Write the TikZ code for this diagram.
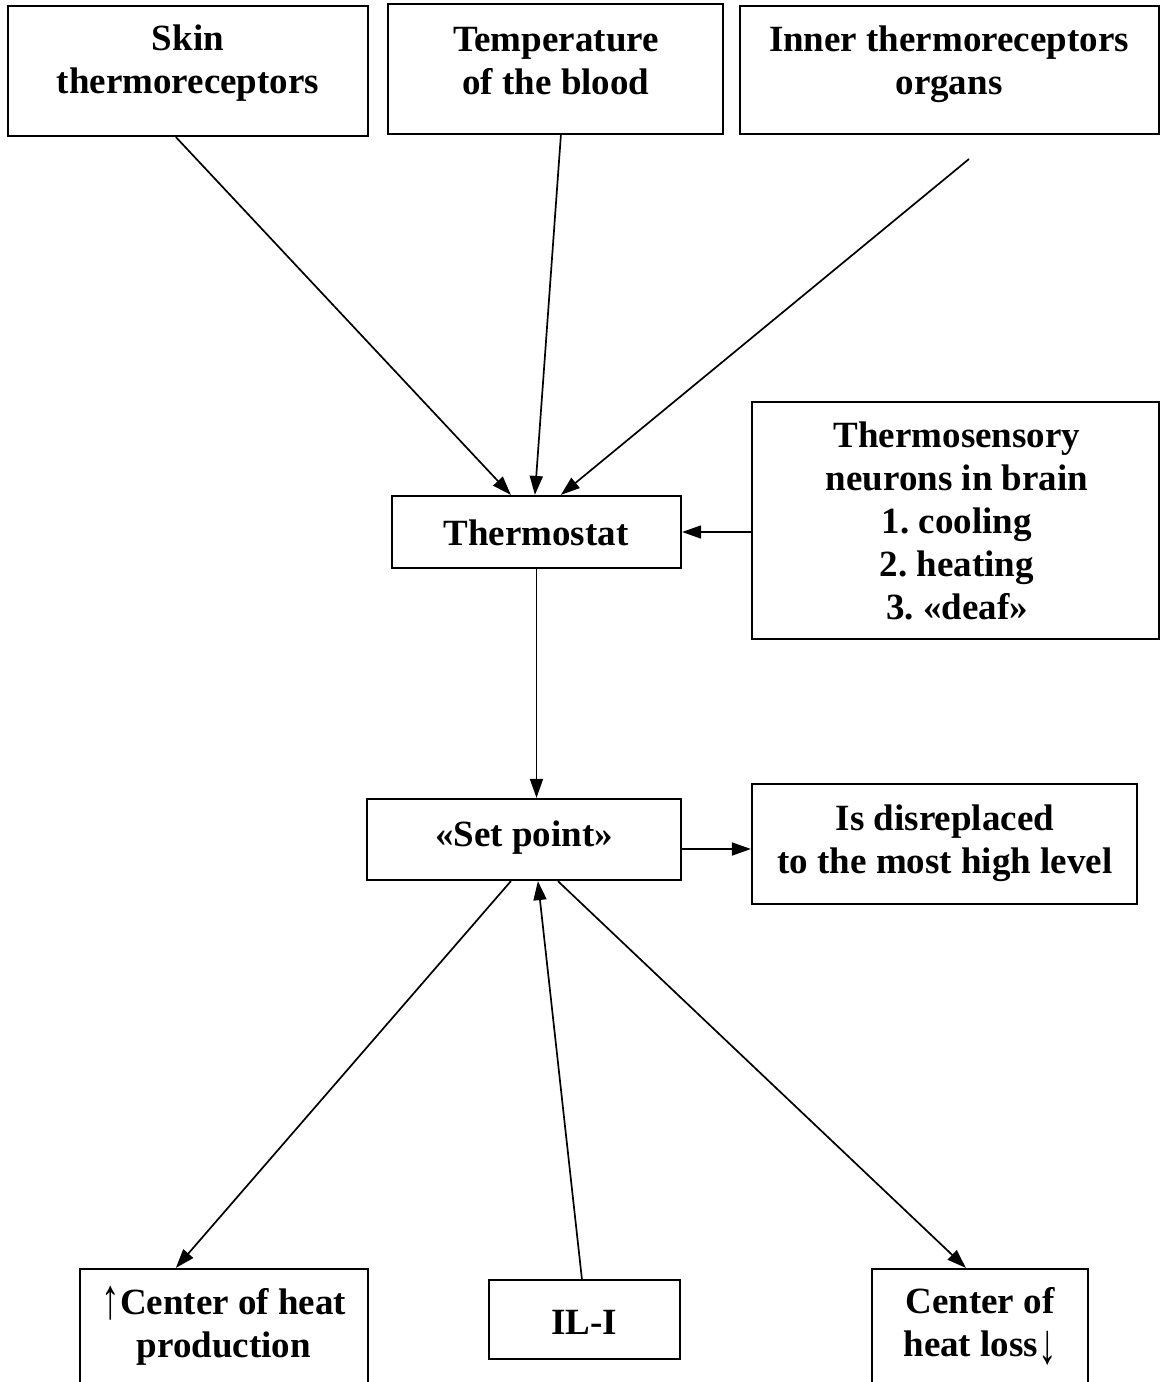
\documentclass[tikz,border=0pt]{standalone}
\usepackage{fontspec}
\usepackage{graphicx}
\setmainfont{Liberation Serif}
\usetikzlibrary{arrows.meta,calc}
\frenchspacing
% tall thin arrows beside the effector labels
\newcommand{\tallup}{\raisebox{-0.12em}{\scalebox{1}[1.55]{↑}}}
\newcommand{\talldown}{\raisebox{-0.18em}{\scalebox{1}[1.55]{↓}}}
\begin{document}
\begin{tikzpicture}[x=1pt,y=-1pt,
  box/.style={draw, line width=2.2pt, rectangle, inner sep=0pt},
  lbl/.style={font=\fontsize{37}{43}\selectfont\bfseries, align=center, inner sep=0pt},
  conn/.style={line width=1.7pt, -{Triangle[length=19pt,width=13pt]}}]
  \useasboundingbox (0,0) rectangle (1160,1382);
  \clip (0,0) rectangle (1160,1382);

  % input boxes along the top
  \node[box, minimum width=360pt, minimum height=130pt] (skin) at (188,71) {};
  \node[lbl] (skintxt) at (188,63) {Skin\\thermoreceptors};
  \node[box, minimum width=335pt, minimum height=130pt] (blood) at (555.5,69) {};
  \node[lbl] (bloodtxt) at (556,61) {Temperature\\of the blood};
  \node[box, minimum width=419pt, minimum height=128pt] (inner) at (949.5,70) {};
  \node[lbl] (innertxt) at (949,64) {Inner thermoreceptors\\organs};
  \coordinate (innerend) at (969,159);

  % thermostat and its neuron input
  \node[box, minimum width=289pt, minimum height=72pt] (thermo) at (536.5,532) {};
  \node[lbl] (thermotxt) at (536,533) {Thermostat};
  \node[box, minimum width=407pt, minimum height=237pt] (neurons) at (955.5,520.5) {};
  \node[lbl] (neuronstxt) at (957,521) {Thermosensory\\neurons in brain\\1. cooling\\2. heating\\3. «deaf»};

  % set point
  \node[box, minimum width=314pt, minimum height=81pt] (setp) at (524,839.5) {};
  \node[lbl] (setptxt) at (524,838) {«Set point»};
  \node[box, minimum width=385pt, minimum height=120pt] (shift) at (944.5,844) {};
  \node[lbl] (shifttxt) at (945,843) {Is disreplaced\\to the most high level};

  % effectors along the bottom
  \node[box, minimum width=288pt, minimum height=151pt] (prod) at (224,1344.5) {};
  \node[lbl] (prodtxt) at (224,1326) {\tallup Center of heat\\production};
  \node[box, minimum width=191pt, minimum height=79pt] (il) at (584.5,1319.5) {};
  \node[lbl] (iltxt) at (584,1322) {IL-I};
  \node[box, minimum width=216pt, minimum height=151pt] (loss) at (980,1344.5) {};
  \node[lbl] (losstxt) at (980,1326) {Center of\\heat loss\talldown};

  % connectors
  \draw[conn] ($(skin.south west)+(169,0)$) -- ($(thermo.north west)+(120,0)$);
  \draw[conn] ($(blood.south west)+(174,0)$) -- ($(thermo.north west)+(144,0)$);
  \draw[conn] (innerend) -- ($(thermo.north west)+(170,0)$);
  \draw[conn] (neurons.west |- thermo.east) -- (thermo.east);
  \draw[conn] (thermo.south) -- (thermo.south |- setp.north);
  \draw[conn] (setp.east |- 0,849) -- (shift.west |- 0,849);
  \draw[conn] ($(setp.south west)+(145,0)$) -- ($(prod.north west)+(97,0)$);
  \draw[conn] ($(il.north west)+(94,0)$) -- ($(setp.south west)+(172,0)$);
  \draw[conn] ($(setp.south west)+(192,0)$) -- ($(loss.north west)+(95,0)$);
\end{tikzpicture}
\end{document}
